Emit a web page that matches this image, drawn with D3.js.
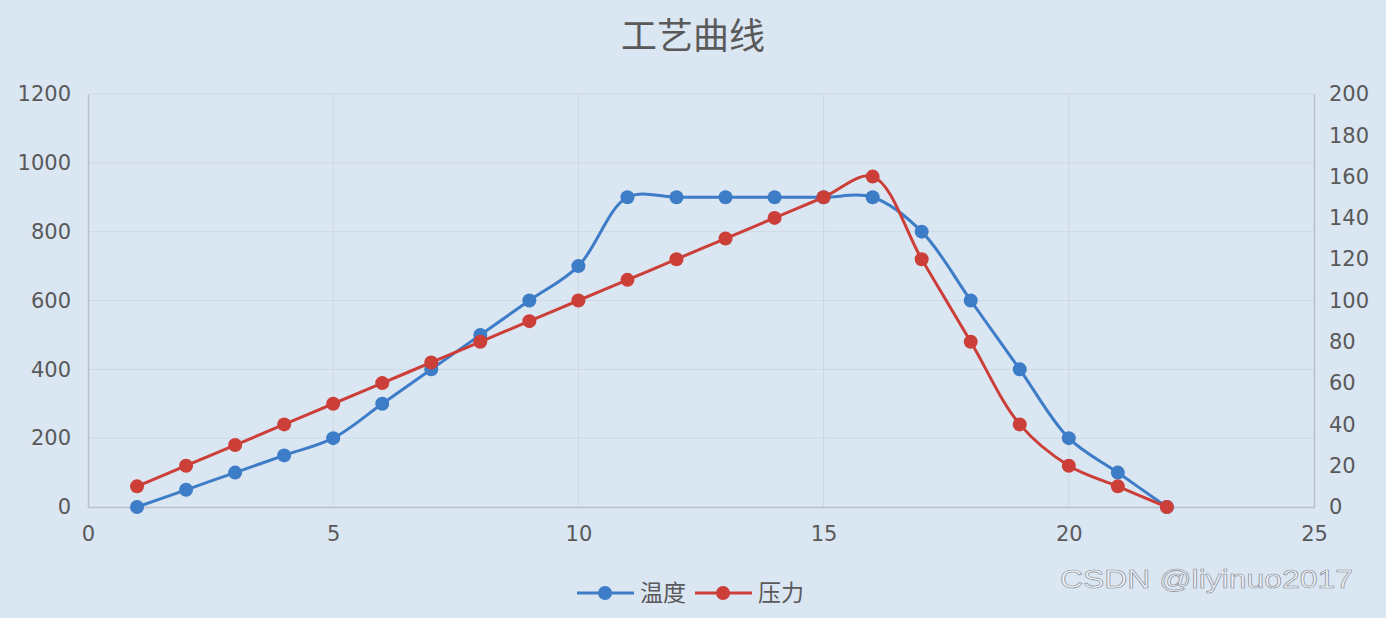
<!DOCTYPE html>
<html>
<head>
<meta charset="utf-8">
<script src="https://cdn.jsdelivr.net/npm/d3@7"></script>
<style>
  body { margin: 0; background: #dbe6f3; }
  svg { display: block; font-family: "Noto Sans CJK SC", "Open Sans", sans-serif; }
</style>
</head>
<body>
<script>
// process curve data
var xValues = [1, 2, 3, 4, 5, 6, 7, 8, 9, 10, 11, 12, 13, 14, 15, 16, 17, 18, 19, 20, 21, 22];
var tempValues = [0, 50, 100, 150, 200, 300, 400, 500, 600, 700, 900, 900, 900, 900, 900, 900, 800, 600, 400, 200, 100, 0];
var pressValues = [10, 20, 30, 40, 50, 60, 70, 80, 90, 100, 110, 120, 130, 140, 150, 160, 120, 80, 40, 20, 10, 0];
var seriesNames = ["温度", "压力"];
var xTicks = [0, 5, 10, 15, 20, 25];
var leftTicks = [0, 200, 400, 600, 800, 1000, 1200];
var rightTicks = [0, 20, 40, 60, 80, 100, 120, 140, 160, 180, 200];

var width = 1386;
var height = 618;
var blue = "#3d7cc6";
var red = "#cc3e38";
var textColor = "#595959";

var svg = d3.select("body").append("svg")
  .attr("width", width)
  .attr("height", height);

svg.append("rect")
  .attr("width", width)
  .attr("height", height)
  .attr("fill", "#dbe6f3");

var x = d3.scaleLinear().domain([0, 25]).range([88, 1314]);
var yLeft = d3.scaleLinear().domain([0, 1200]).range([507, 94]);
var yRight = d3.scaleLinear().domain([0, 200]).range([507, 94]);

// gridlines
svg.append("g")
  .selectAll("line.hgrid")
  .data(leftTicks.slice(1))
  .enter().append("line")
    .attr("x1", x(0)).attr("x2", x(25))
    .attr("y1", function(d) { return yLeft(d); })
    .attr("y2", function(d) { return yLeft(d); })
    .attr("stroke", "#cdd8e5")
    .attr("stroke-width", 1);

svg.append("g")
  .selectAll("line.vgrid")
  .data(xTicks.slice(1, -1))
  .enter().append("line")
    .attr("x1", function(d) { return x(d); })
    .attr("x2", function(d) { return x(d); })
    .attr("y1", yLeft(1200)).attr("y2", yLeft(0))
    .attr("stroke", "#cdd8e5")
    .attr("stroke-width", 1);

// axes
var fmt = d3.format("d");
var xAxis = svg.append("g")
  .attr("transform", "translate(0," + yLeft(0) + ")")
  .call(d3.axisBottom(x).tickValues(xTicks).tickFormat(fmt).tickSize(0).tickPadding(19));

var leftAxis = svg.append("g")
  .attr("transform", "translate(" + x(0) + ",0)")
  .call(d3.axisLeft(yLeft).tickValues(leftTicks).tickFormat(fmt).tickSize(0).tickPadding(17));

var rightAxis = svg.append("g")
  .attr("transform", "translate(" + x(25) + ",0)")
  .call(d3.axisRight(yRight).tickValues(rightTicks).tickFormat(fmt).tickSize(0).tickPadding(15));

[xAxis, leftAxis, rightAxis].forEach(function(g) {
  g.select(".domain").attr("stroke", "#b8c0ca").attr("stroke-width", 1.5);
  g.selectAll("text")
    .attr("fill", textColor)
    .style("font-size", "21px")
    .style("font-family", "'DejaVu Sans', sans-serif");
});

// title
svg.append("text")
  .attr("x", 693)
  .attr("y", 49)
  .attr("text-anchor", "middle")
  .attr("fill", textColor)
  .style("font-size", "36px")
  .text("工艺曲线");

var tempData = xValues.map(function(d, i) { return [d, tempValues[i]]; });
var pressData = xValues.map(function(d, i) { return [d, pressValues[i]]; });

function drawSeries(data, yScale, color) {
  var line = d3.line()
    .x(function(d) { return x(d[0]); })
    .y(function(d) { return yScale(d[1]); })
    .curve(d3.curveCatmullRom.alpha(0.5));

  svg.append("path")
    .datum(data)
    .attr("d", line)
    .attr("fill", "none")
    .attr("stroke", color)
    .attr("stroke-width", 3);

  svg.append("g")
    .selectAll("circle")
    .data(data)
    .enter().append("circle")
      .attr("cx", function(d) { return x(d[0]); })
      .attr("cy", function(d) { return yScale(d[1]); })
      .attr("r", 7)
      .attr("fill", color);
}

drawSeries(tempData, yLeft, blue);
drawSeries(pressData, yRight, red);

// legend
var legend = svg.append("g").attr("transform", "translate(577,593)");
var legendItems = [
  { name: seriesNames[0], color: blue, dx: 0 },
  { name: seriesNames[1], color: red, dx: 118 }
];
legendItems.forEach(function(item) {
  var g = legend.append("g").attr("transform", "translate(" + item.dx + ",0)");
  g.append("line").attr("x1", 0).attr("x2", 57).attr("y1", 0).attr("y2", 0)
    .attr("stroke", item.color).attr("stroke-width", 3);
  g.append("circle").attr("cx", 28).attr("cy", 0).attr("r", 7).attr("fill", item.color);
  g.append("text").attr("x", 63).attr("y", 8)
    .attr("fill", textColor)
    .style("font-size", "23px")
    .text(item.name);
});

// watermark
svg.append("text")
  .attr("x", 1060)
  .attr("y", 588)
  .attr("fill", "#eef2f8")
  .attr("stroke", "#858a92")
  .attr("stroke-width", 0.6)
  .attr("textLength", 293)
  .attr("lengthAdjust", "spacingAndGlyphs")
  .style("font-size", "26px")
  .style("font-family", "'Liberation Sans', sans-serif")
  .text("CSDN @liyinuo2017");
</script>
</body>
</html>
